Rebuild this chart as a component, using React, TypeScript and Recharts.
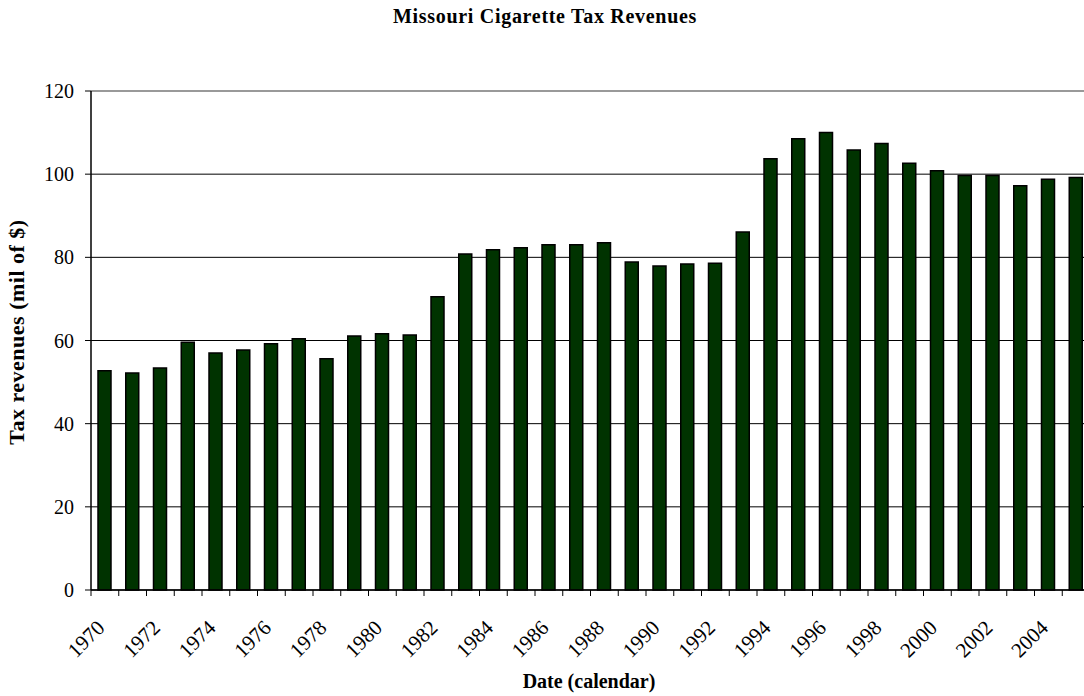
import React from "react";
import { Bar, BarChart, CartesianGrid, ReferenceLine, XAxis, YAxis } from "recharts";

const years = [
  "1970", "1971", "1972", "1973", "1974", "1975", "1976", "1977", "1978", "1979",
  "1980", "1981", "1982", "1983", "1984", "1985", "1986", "1987", "1988", "1989",
  "1990", "1991", "1992", "1993", "1994", "1995", "1996", "1997", "1998", "1999",
  "2000", "2001", "2002", "2003", "2004", "2005",
];

const revenues = [
  52.7, 52.2, 53.4, 59.6, 57.0, 57.7, 59.2, 60.4, 55.6, 61.1,
  61.6, 61.3, 70.5, 80.8, 81.8, 82.3, 83.0, 83.0, 83.5, 78.9,
  77.9, 78.4, 78.6, 86.1, 103.7, 108.5, 110.0, 105.8, 107.4, 102.6,
  100.8, 99.7, 99.7, 97.2, 98.8, 99.2,
];

const yTicks = [0, 20, 40, 60, 80, 100, 120];

const rows = years.map((year, i) => ({ year, value: revenues[i] }));

const FONT = '"Liberation Serif", "Times New Roman", serif';
const BAND = 999 / years.length;

function YearTick(props: any) {
  const { x, y, payload, index } = props;
  const showLabel = Number(payload.value) % 2 === 0;
  const lx = x + 1;
  const ly = y + 39;
  return (
    <g>
      <line x1={x - BAND / 2} y1={y} x2={x - BAND / 2} y2={y + 6} stroke="#000" strokeWidth={1} />
      {index === years.length - 1 && (
        <line x1={x + BAND / 2} y1={y} x2={x + BAND / 2} y2={y + 6} stroke="#000" strokeWidth={1} />
      )}
      {showLabel && (
        <text
          x={lx}
          y={ly}
          textAnchor="end"
          transform={`rotate(-45, ${lx}, ${ly})`}
          style={{ fontFamily: FONT, fontSize: 21, fill: "#000" }}
        >
          {payload.value}
        </text>
      )}
    </g>
  );
}

function ValueTick(props: any) {
  const { x, y, payload } = props;
  return (
    <text
      x={x}
      y={y}
      dy="0.35em"
      textAnchor="end"
      style={{ fontFamily: FONT, fontSize: 20, fill: "#000" }}
    >
      {payload.value}
    </text>
  );
}

export default function App() {
  return (
    <div
      style={{
        position: "absolute",
        left: 0,
        top: 0,
        width: 1084,
        height: 696,
        overflow: "hidden",
        background: "#fff",
        fontFamily: FONT,
      }}
    >
      <div
        style={{
          position: "absolute",
          top: 5,
          left: 0,
          width: 1090,
          textAlign: "center",
          fontWeight: "bold",
          fontSize: 20,
          letterSpacing: 0.7,
          lineHeight: "22px",
        }}
      >
        Missouri Cigarette Tax Revenues
      </div>
      <div
        style={{
          position: "absolute",
          left: 17 - 150,
          top: 332 - 12,
          width: 300,
          textAlign: "center",
          fontWeight: "bold",
          fontSize: 22,
          letterSpacing: 0.5,
          lineHeight: "24px",
          transform: "rotate(-90deg)",
        }}
      >
        Tax revenues (mil of $)
      </div>
      <div
        style={{
          position: "absolute",
          left: 589 - 150,
          top: 670,
          width: 300,
          textAlign: "center",
          fontWeight: "bold",
          fontSize: 20,
          lineHeight: "22px",
        }}
      >
        Date (calendar)
      </div>
      <BarChart
        width={1100}
        height={696}
        data={rows}
        margin={{ top: 91, right: 10, bottom: 0, left: 0 }}
        barCategoryGap={0}
      >
        <CartesianGrid vertical={false} stroke="#000" strokeWidth={1} />
        <XAxis
          dataKey="year"
          interval={0}
          height={106}
          tickLine={false}
          tickSize={0}
          tickMargin={0}
          axisLine={{ stroke: "#000", strokeWidth: 1.5 }}
          tick={<YearTick />}
        />
        <YAxis
          width={91}
          domain={[0, 120]}
          ticks={yTicks}
          interval={0}
          tickSize={6}
          tickMargin={11}
          axisLine={{ stroke: "#000", strokeWidth: 1.5 }}
          tickLine={{ stroke: "#000" }}
          tick={<ValueTick />}
        />
        <ReferenceLine y={120} stroke="#999" strokeWidth={2} />
        <Bar
          dataKey="value"
          fill="#003300"
          stroke="#000"
          strokeWidth={1.5}
          barSize={13}
          isAnimationActive={false}
        />
      </BarChart>
    </div>
  );
}
